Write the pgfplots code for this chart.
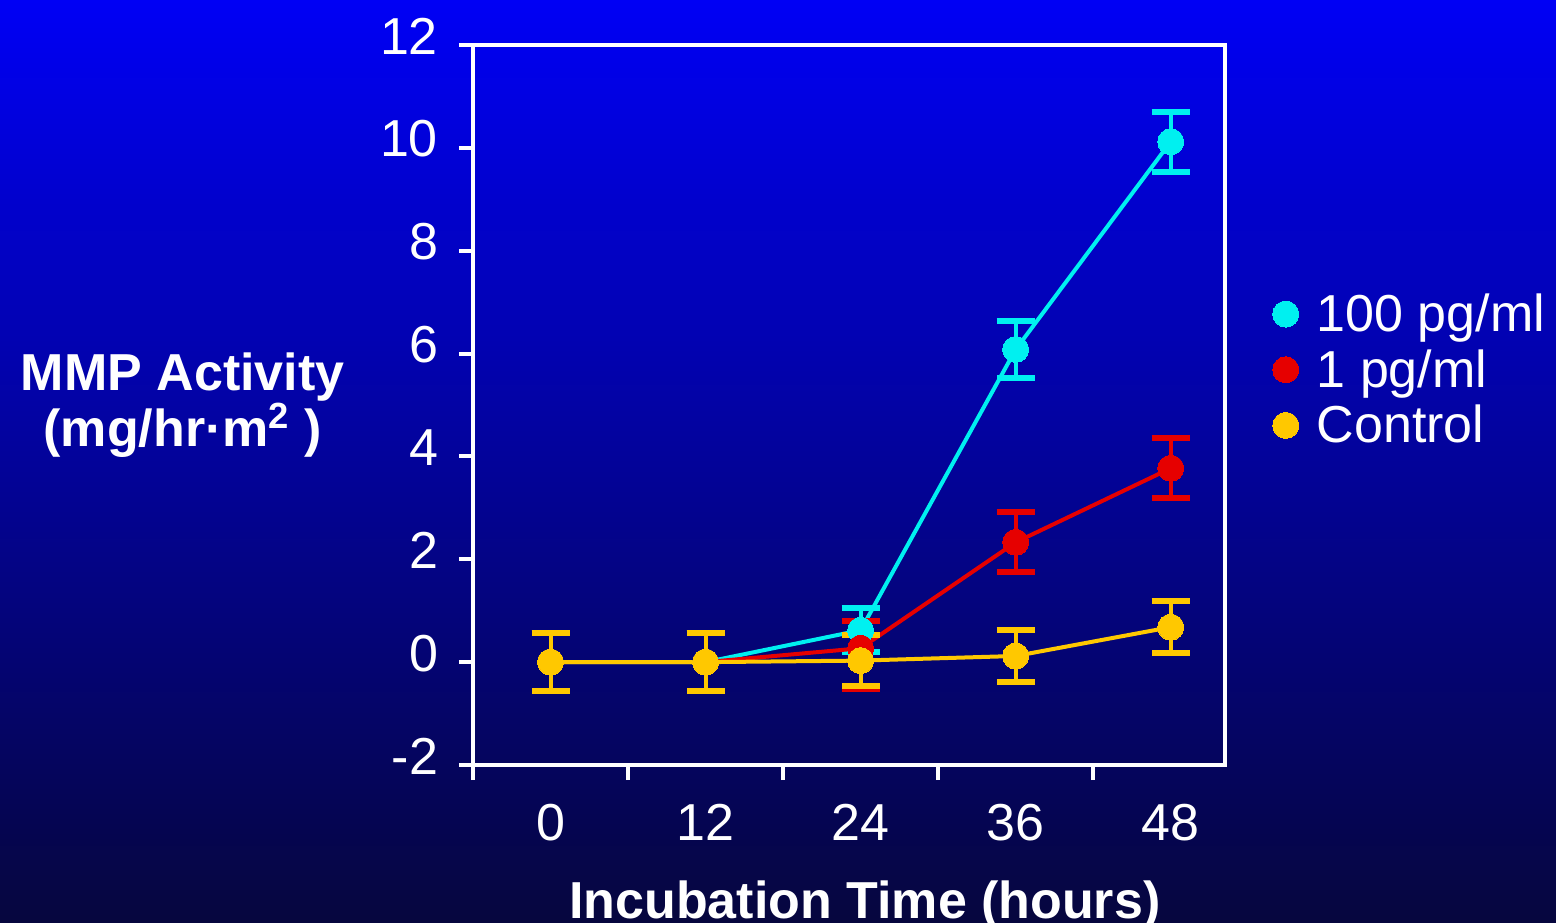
\documentclass[border=0pt]{standalone}
\usepackage{pgfplots}
\pgfplotsset{compat=1.18}
\usepackage{fontspec}
\setmainfont{Liberation Sans}
\definecolor{bgtop}{RGB}{0,0,245}
\definecolor{bgmid}{RGB}{0,0,190}
\definecolor{bgbot}{RGB}{6,6,62}
\definecolor{ccyan}{RGB}{0,240,240}
\definecolor{cred}{RGB}{230,0,0}
\definecolor{cgold}{RGB}{255,200,0}
\newcommand{\bigf}{\fontsize{26}{31}\selectfont}
\begin{document}
\begin{tikzpicture}[x=1pt,y=1pt]
\shade[top color=bgtop, middle color=bgmid, bottom color=bgbot] (-236.5,-78.5) rectangle (541.5,382.5);
\begin{axis}[
  width=376pt, height=360pt, scale only axis,
  xmin=0, xmax=4.85, ymin=-2, ymax=12,
  axis line style={white, line width=2pt},
  tick style={white, line width=2pt},
  tick align=outside, major tick length=7pt, minor tick length=7.5pt,
  ytick={-2,0,2,4,6,8,10,12}, yticklabels={-2,0,2,4,6,8,10,12},
  ytick pos=left, xtick pos=bottom,
  xtick={0.5,1.5,2.5,3.5,4.5}, xticklabels={0,12,24,36,48},
  minor xtick={0,1,2,3,4},
  every major x tick/.append style={draw=none},
  /pgf/number format/assume math mode=true,
  ticklabel style={font=\bigf, text=white},
  yticklabel style={xshift=-7pt, yshift=4.5pt},
  xticklabel style={yshift=-9pt},
  xlabel={Incubation Time (hours)},
  xlabel style={at={(axis description cs:0.521,-0.2125)}, anchor=base, font=\bfseries\bigf, text=white},
  ylabel={MMP Activity\\(mg/hr·m\textsuperscript{2} )},
  ylabel style={rotate=-90, at={(axis description cs:-0.386,0.5)}, anchor=center, align=center, font=\bfseries\fontsize{26}{23}\selectfont, text=white},
  legend style={at={(axis description cs:1.055,0.549)}, anchor=west, draw=none, fill=none, text=white, font=\bigf, row sep=5.5pt, nodes={inner sep=1pt},
    /tikz/every odd column/.append style={column sep=8pt}},
  legend cell align=left,
  legend image code/.code={\draw[#1] plot[only marks] coordinates {(0.2cm,0cm)};},
  every axis plot/.append style={line width=2pt, mark=*, mark size=6.5pt},
  error bars/y dir=both, error bars/y explicit,
  error bars/error bar style={line width=2pt},
]
\addplot[color=ccyan, mark options={fill=ccyan, draw=ccyan, line width=0pt},
  error bars/error mark options={ccyan, line width=3pt, mark size=9.5pt, rotate=90}]
  coordinates {(0.5,0) +- (0,0.56) (1.5,0) +- (0,0.56) (2.5,0.62) +- (0,0.43) (3.5,6.08) +- (0,0.56) (4.5,10.12) +- (0,0.58)};
\addlegendentry{100 pg/ml}
\addplot[color=cred, mark options={fill=cred, draw=cred, line width=0pt},
  error bars/error mark options={cred, line width=3pt, mark size=9.5pt, rotate=90}]
  coordinates {(0.5,0) +- (0,0.56) (1.5,0) +- (0,0.56) (2.5,0.27) += (0,0.53) -= (0,0.79) (3.5,2.33) +- (0,0.58) (4.5,3.77) +- (0,0.58)};
\addlegendentry{1 pg/ml}
\addplot[color=cgold, mark options={fill=cgold, draw=cgold, line width=0pt},
  error bars/error mark options={cgold, line width=3pt, mark size=9.5pt, rotate=90}]
  coordinates {(0.5,0) +- (0,0.56) (1.5,0) +- (0,0.56) (2.5,0.03) +- (0,0.5) (3.5,0.12) +- (0,0.5) (4.5,0.68) +- (0,0.5)};
\addlegendentry{Control}
\end{axis}
\pgfresetboundingbox
\useasboundingbox (-236.5,-78.5) rectangle (541.5,382.5);
\end{tikzpicture}
\end{document}
